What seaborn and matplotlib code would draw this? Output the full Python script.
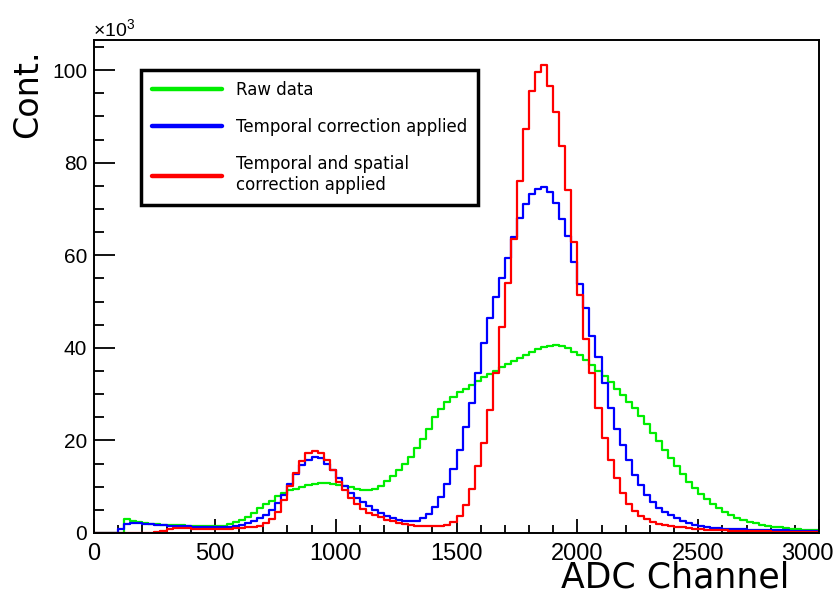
import numpy as np
import pandas as pd
import matplotlib
matplotlib.use("Agg")
import matplotlib.pyplot as plt
import matplotlib.transforms as mtransforms
from matplotlib.lines import Line2D
from matplotlib.ticker import MultipleLocator
import seaborn as sns

# ---------------------------------------------------------------------
# Data: counts per 25-channel bin (in units of 10^3)
# ---------------------------------------------------------------------
bin_width = 25
edges = list(range(0, 3000 + bin_width, bin_width))
centers = [e + bin_width / 2 for e in edges[:-1]]

raw_data = [
    0, 0, 0, 0, 0, 3.0, 2.6, 2.3, 2.1, 2.0, 1.9, 1.8, 1.75, 1.7, 1.65, 1.6, 1.55, 1.5, 1.5, 1.45,
    1.5, 1.6, 1.9, 2.3, 2.9, 3.5, 4.3, 5.3, 6.2, 7.0, 7.9, 8.6, 9.2, 9.6, 10.0, 10.3, 10.5, 10.7, 10.7, 10.6,
    10.4, 10.2, 9.9, 9.5, 9.3, 9.3, 9.6, 10.2, 11.2, 12.3, 13.6, 15.0, 16.5, 18.4, 20.3, 22.5, 25.0, 26.8, 28.2, 29.4,
    30.4, 31.2, 32.0, 32.8, 33.6, 34.3, 35.0, 35.8, 36.6, 37.2, 37.8, 38.5, 39.2, 39.7, 40.2, 40.5, 40.6, 40.5, 39.9, 39.2,
    38.4, 37.4, 36.3, 35.1, 33.9, 32.6, 31.2, 29.8, 28.4, 26.9, 25.3, 23.5, 21.7, 19.8, 18.0, 16.2, 14.5, 12.8, 11.1, 9.7,
    8.4, 7.3, 6.2, 5.3, 4.5, 3.8, 3.2, 2.8, 2.4, 2.1, 1.8, 1.6, 1.4, 1.25, 1.1, 0.95, 0.85, 0.75, 0.65, 0.55,
]

temporal = [
    0, 0, 0, 0, 0.8, 1.9, 2.2, 2.1, 2.0, 1.9, 1.8, 1.7, 1.6, 1.55, 1.5, 1.45, 1.4, 1.35, 1.3, 1.3,
    1.25, 1.3, 1.4, 1.55, 1.8, 2.1, 2.5, 3.2, 3.9, 5.0, 6.4, 8.2, 10.5, 12.8, 14.6, 15.8, 16.5, 16.2, 15.0, 13.6,
    11.8, 10.1, 8.7, 7.6, 6.7, 5.8, 4.9, 4.3, 3.7, 3.2, 2.9, 2.7, 2.6, 2.7, 3.2, 4.2, 5.6, 7.8, 10.5, 13.8,
    18.0, 22.8, 28.0, 34.5, 41.0, 46.5, 51.0, 55.0, 59.5, 64.0, 68.0, 71.0, 73.3, 74.4, 74.7, 73.6, 71.3, 67.8, 64.2, 58.6,
    53.8, 48.7, 42.6, 38.0, 32.3, 27.0, 22.5, 19.0, 15.8, 12.6, 10.3, 8.2, 6.6, 5.4, 4.6, 3.9, 3.3, 2.7, 2.2, 1.8,
    1.5, 1.3, 1.15, 1.05, 0.95, 0.9, 0.85, 0.8, 0.75, 0.7, 0.68, 0.65, 0.6, 0.58, 0.55, 0.5, 0.48, 0.45, 0.42, 0.4,
]

temporal_spatial = [
    0, 0, 0, 0, 0, 0, 0, 0, 0, 0, 0.2, 0.5, 0.8, 1.0, 1.0, 1.0, 0.95, 0.95, 0.9, 0.9,
    0.9, 0.9, 0.95, 1.0, 1.1, 1.2, 1.3, 1.6, 2.1, 3.0, 4.6, 7.2, 10.2, 13.0, 15.6, 17.2, 17.8, 17.3, 15.8, 13.6,
    11.0, 9.2, 7.5, 6.3, 5.2, 4.4, 3.9, 3.4, 2.9, 2.5, 2.1, 1.9, 1.7, 1.6, 1.5, 1.5, 1.5, 1.6, 1.8, 2.3,
    3.6, 6.0, 9.5, 14.5, 19.5, 26.5, 34.5, 44.5, 54.0, 63.5, 76.0, 87.3, 95.5, 99.5, 101.0, 96.5, 91.0, 83.5, 74.0, 62.8,
    51.5, 42.0, 34.5, 27.0, 20.5, 15.8, 11.8, 8.6, 6.3, 4.8, 3.7, 3.0, 2.4, 2.0, 1.75, 1.5, 1.35, 1.2, 1.05, 0.95,
    0.85, 0.75, 0.65, 0.6, 0.55, 0.5, 0.45, 0.42, 0.4, 0.38, 0.35, 0.33, 0.31, 0.3, 0.28, 0.27, 0.26, 0.25, 0.24, 0.23,
]

series = [
    ("Raw data", raw_data, "#00ee00"),
    ("Temporal correction applied", temporal, "#0000ff"),
    ("Temporal and spatial\ncorrection applied", temporal_spatial, "#ff0000"),
]

# ---------------------------------------------------------------------
# Style (ROOT-like look)
# ---------------------------------------------------------------------
sns.set_style("white")
plt.rcParams["font.family"] = ["Liberation Sans", "DejaVu Sans"]
plt.rcParams["mathtext.fontset"] = "custom"
plt.rcParams["mathtext.rm"] = "Liberation Sans"
plt.rcParams["text.color"] = "black"
plt.rcParams["xtick.color"] = "black"
plt.rcParams["ytick.color"] = "black"

fig = plt.figure(figsize=(8.39, 5.95), dpi=100)
ax = fig.add_axes([94 / 839, 62 / 595, 725 / 839, 493 / 595])

for label, vals, color in series:
    df = pd.DataFrame({"channel": centers, "counts": vals})
    sns.histplot(data=df, x="channel", weights="counts", bins=edges, element="step",
                 fill=False, color=color, linewidth=1.6, ax=ax)

ax.set_xlim(0, 3000)
ax.set_ylim(0, 106.5)
ax.set_xlabel("")
ax.set_ylabel("")

for side in ["left", "bottom", "top", "right"]:
    ax.spines[side].set_visible(True)
    ax.spines[side].set_color("black")
    ax.spines[side].set_linewidth(1.4)

ax.xaxis.set_major_locator(MultipleLocator(500))
ax.xaxis.set_minor_locator(MultipleLocator(100))
ax.yaxis.set_major_locator(MultipleLocator(20))
ax.yaxis.set_minor_locator(MultipleLocator(5))
ax.tick_params(axis="x", which="major", direction="in", length=10, width=1.3,
               labelsize=17, pad=7, bottom=True, top=False, labelcolor="black")
ax.tick_params(axis="x", which="minor", direction="in", length=5.5, width=1.3,
               bottom=True, top=False)
ax.tick_params(axis="y", which="major", direction="in", length=15, width=1.3,
               labelsize=15, pad=5, left=True, right=False, labelcolor="black")
ax.tick_params(axis="y", which="minor", direction="in", length=7, width=1.3,
               left=True, right=False)

# ROOT pulls the last x label inside the canvas
fig.canvas.draw()
for tick in ax.xaxis.get_major_ticks():
    if abs(tick.get_loc() - 3000) < 1e-6:
        tick.label1.set_horizontalalignment("right")
        tick.label1.set_transform(tick.label1.get_transform()
                                  + mtransforms.ScaledTranslation(15 / 100, 0, fig.dpi_scale_trans))

# axis titles placed ROOT-style at the axis ends
fig.text(789 / 839, 1 - 587 / 595, "ADC Channel", ha="right", va="baseline",
         fontsize=25, family="DejaVu Sans")
fig.text(28 / 839, 1 - 49 / 595, "Cont.", ha="center", va="top", rotation=90,
         fontsize=24, family="DejaVu Sans")
fig.text(93 / 839, 1 - 37 / 595, r"$\times$10$^{3}$", ha="left", va="baseline", fontsize=14)

handles = [Line2D([], [], color=c, linewidth=3.2) for _, _, c in series]
labels = [s[0] for s in series]
leg = ax.legend(handles, labels, loc="upper left", bbox_to_anchor=(47 / 725, 463 / 493),
                borderaxespad=0, prop={"family": "DejaVu Sans", "size": 12},
                frameon=True, fancybox=False, handlelength=4.2, handletextpad=0.85,
                labelspacing=1.15, borderpad=0.65)
leg.get_frame().set_edgecolor("black")
leg.get_frame().set_linewidth(2.5)
leg.get_frame().set_alpha(1)

fig.savefig("out.png", dpi=100)
